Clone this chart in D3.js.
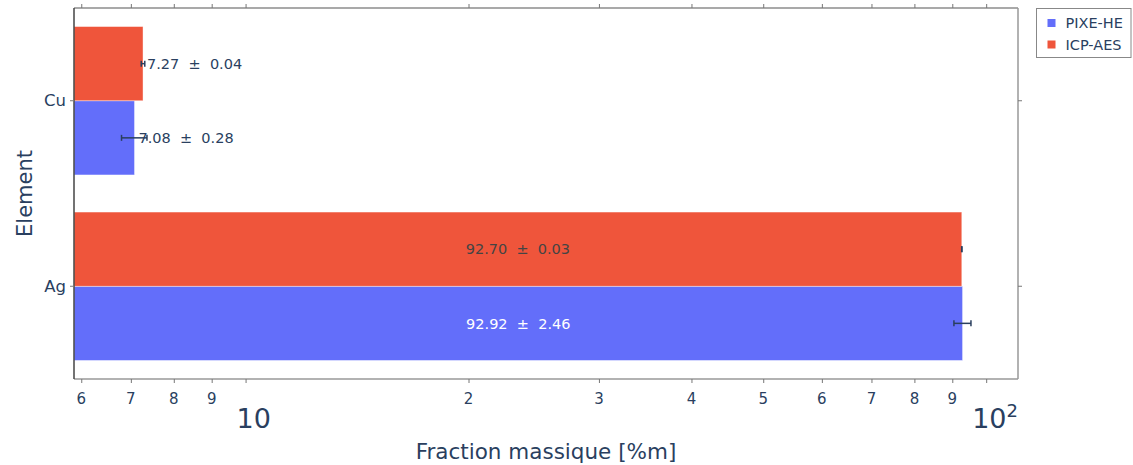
<!DOCTYPE html>
<html>
<head>
<meta charset="utf-8">
<script src="https://cdn.jsdelivr.net/npm/d3@7"></script>
<style>
  body { margin: 0; background: #fff; }
  svg { display: block; font-family: "DejaVu Sans", Verdana, sans-serif; }
  text { white-space: pre; }
</style>
</head>
<body>
<svg id="chart" width="1133" height="465"></svg>
<script>
// ---- data ----
const elements = ["Cu", "Ag"];
const seriesNames = ["PIXE-HE", "ICP-AES"];
const pixeValues = [7.08, 92.92];
const pixeErrors = [0.28, 2.46];
const icpValues = [7.27, 92.70];
const icpErrors = [0.04, 0.03];
const smallTickValues = [6, 7, 8, 9, 20, 30, 40, 50, 60, 70, 80, 90];
const smallTickLabels = ["6", "7", "8", "9", "2", "3", "4", "5", "6", "7", "8", "9"];
const powerTickValues = [10, 100];
const xDomain = [5.866, 110.4];

const colors = { "PIXE-HE": "#636efa", "ICP-AES": "#EF553B" };
const textColor = "#2a3f5f";

const svg = d3.select("#chart");
const L = 74, R = 1018, T = 8, B = 379;

const x = d3.scaleLog().domain(xDomain).range([L, R]);
const y = d3.scaleBand().domain(elements).range([T, B]).paddingInner(0.2).paddingOuter(0.1);
// within a group: ICP-AES on top, PIXE-HE below
const ySub = d3.scaleBand().domain(["ICP-AES", "PIXE-HE"]).range([0, y.bandwidth()]);

const rows = [];
elements.forEach((el, i) => {
  rows.push({ el, s: "PIXE-HE", v: pixeValues[i], e: pixeErrors[i] });
  rows.push({ el, s: "ICP-AES", v: icpValues[i], e: icpErrors[i] });
});

// bars
const g = svg.append("g");
g.selectAll("rect.bar").data(rows).enter().append("rect")
  .attr("class", "bar")
  .attr("x", L)
  .attr("y", d => y(d.el) + ySub(d.s))
  .attr("width", d => x(d.v) - L)
  .attr("height", ySub.bandwidth())
  .attr("fill", d => colors[d.s])
  .attr("stroke", "#ffffff").attr("stroke-opacity", 0.5).attr("stroke-width", 0.8);

// bar labels
rows.forEach(d => {
  const cy = y(d.el) + ySub(d.s) + ySub.bandwidth() / 2;
  const label = d.v.toFixed(2) + "  \u00b1  " + d.e.toFixed(2);
  const t = g.append("text").text(label)
    .attr("font-size", 14.5).attr("dy", "0.36em").attr("y", cy);
  const w = t.node().getComputedTextLength();
  const barW = x(d.v) - L;
  if (w + 8 < barW) {
    t.attr("x", L + barW / 2).attr("text-anchor", "middle")
     .attr("fill", d.s === "PIXE-HE" ? "#ffffff" : "#444444");
  } else {
    t.attr("x", x(d.v) + 4).attr("text-anchor", "start").attr("fill", textColor);
  }
});

// error bars
rows.forEach(d => {
  const cy = y(d.el) + ySub(d.s) + ySub.bandwidth() / 2;
  const x0 = x(d.v - d.e), x1 = x(d.v + d.e);
  const eg = g.append("g").attr("stroke", textColor).attr("stroke-width", 1.5);
  eg.append("line").attr("x1", x0).attr("x2", x1).attr("y1", cy).attr("y2", cy);
  eg.append("line").attr("x1", x0).attr("x2", x0).attr("y1", cy - 3).attr("y2", cy + 3);
  eg.append("line").attr("x1", x1).attr("x2", x1).attr("y1", cy - 3).attr("y2", cy + 3);
});

// frame
svg.append("line").attr("x1", L).attr("x2", R).attr("y1", T).attr("y2", T).attr("stroke", "#555").attr("stroke-width", 1.2);
svg.append("line").attr("x1", L).attr("x2", R).attr("y1", B).attr("y2", B).attr("stroke", "#999").attr("stroke-width", 1.5);
svg.append("line").attr("x1", L).attr("x2", L).attr("y1", T).attr("y2", B).attr("stroke", "#444").attr("stroke-width", 1.5);
svg.append("line").attr("x1", R).attr("x2", R).attr("y1", T).attr("y2", B).attr("stroke", "#999").attr("stroke-width", 1.5);

// x ticks (bottom and mirrored top)
const allTicks = smallTickValues.concat(powerTickValues);
const xb = d3.axisBottom(x).tickValues(allTicks).tickSize(4).tickFormat("");
const xt = d3.axisTop(x).tickValues(allTicks).tickSize(4).tickFormat("");
svg.append("g").attr("transform", `translate(0,${B})`).call(xb)
  .call(a => a.select(".domain").remove())
  .call(a => a.selectAll("line").attr("stroke", "#777"));
svg.append("g").attr("transform", `translate(0,${T})`).call(xt)
  .call(a => a.select(".domain").remove())
  .call(a => a.selectAll("line").attr("stroke", "#777"));

// x tick labels
smallTickValues.forEach((v, i) => {
  svg.append("text").attr("x", x(v)).attr("y", B + 25)
    .attr("text-anchor", "middle").attr("font-size", 15).attr("fill", textColor)
    .text(smallTickLabels[i]);
});
// power labels
svg.append("text").attr("x", x(10) - 9).attr("y", B + 49)
  .attr("font-size", 27).attr("fill", textColor).text("10");
const p2 = svg.append("text").attr("x", x(100) - 14).attr("y", B + 49)
  .attr("font-size", 27).attr("fill", textColor);
p2.append("tspan").text("10");
p2.append("tspan").attr("font-size", 18).attr("dy", -11).text("2");

// y axis (left and mirrored right)
const yl = d3.axisLeft(y).tickSize(4).tickPadding(4);
svg.append("g").attr("transform", `translate(${L},0)`).call(yl)
  .call(a => a.select(".domain").remove())
  .call(a => a.selectAll("line").attr("stroke", "#777"))
  .call(a => a.selectAll("text").attr("font-size", 16.5).attr("fill", textColor)
    .attr("font-family", "DejaVu Sans, Verdana, sans-serif"));
const yr = d3.axisRight(y).tickSize(4).tickFormat("");
svg.append("g").attr("transform", `translate(${R},0)`).call(yr)
  .call(a => a.select(".domain").remove())
  .call(a => a.selectAll("line").attr("stroke", "#777"));

// axis titles
svg.append("text").attr("x", (L + R) / 2).attr("y", 459)
  .attr("text-anchor", "middle").attr("font-size", 21.5).attr("fill", textColor)
  .text("Fraction massique [%m]");
svg.append("text").attr("transform", `translate(32,${(T + B) / 2}) rotate(-90)`)
  .attr("text-anchor", "middle").attr("font-size", 21).attr("fill", textColor)
  .text("Element");

// legend
const lg = svg.append("g").attr("transform", "translate(1036.5,8.5)");
lg.append("rect").attr("width", 94.5).attr("height", 49)
  .attr("fill", "#fff").attr("stroke", "#888").attr("stroke-width", 1);
seriesNames.forEach((s, i) => {
  const cy = 14.5 + i * 21.5;
  lg.append("rect").attr("x", 11).attr("y", cy - 4).attr("width", 8).attr("height", 8)
    .attr("fill", colors[s]);
  lg.append("text").attr("x", 29).attr("y", cy).attr("dy", "0.36em")
    .attr("font-size", 14.5).attr("fill", textColor).text(s);
});
</script>
</body>
</html>
